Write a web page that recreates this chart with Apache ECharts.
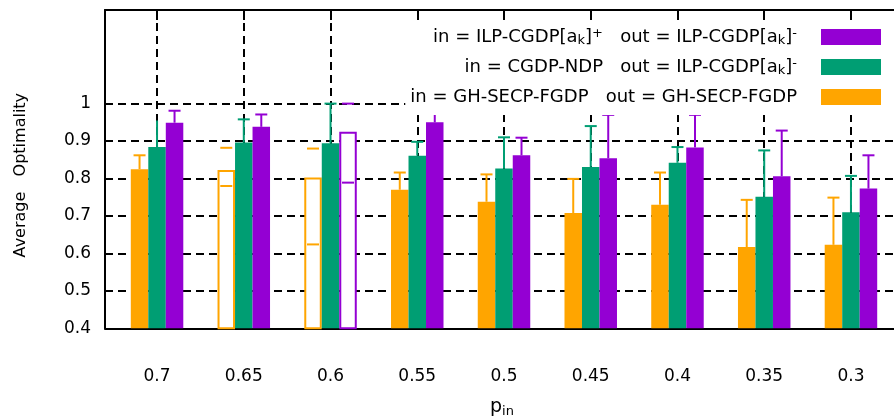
<!DOCTYPE html>
<html><head><meta charset="utf-8">
<script src="https://cdn.jsdelivr.net/npm/echarts@6/dist/echarts.min.js"></script>
<style>html,body{margin:0;padding:0;background:#fff;overflow:hidden}#c{width:894px;height:419px}</style>
</head><body><div id="c"></div>
<script>
// ---- data ----
const categories = ['0.7', '0.65', '0.6', '0.55', '0.5', '0.45', '0.4', '0.35', '0.3'];
const yTickValues = [0.4, 0.5, 0.6, 0.7, 0.8, 0.9, 1];

const nameOrange = 'in = GH-SECP-FGDP   out = GH-SECP-FGDP';
const nameGreen  = 'in = CGDP-NDP   out = ILP-CGDP[ak]-';
const namePurple = 'in = ILP-CGDP[ak]+   out = ILP-CGDP[ak]-';

const orangeMean = [0.825, 0.823, 0.803, 0.770, 0.738, 0.708, 0.730, 0.617, 0.623];
const orangeHigh = [0.862, 0.882, 0.880, 0.816, 0.811, 0.799, 0.816, 0.743, 0.749];
const orangeLow  = [null, 0.780, 0.624, null, null, null, null, null, null]; // lower whiskers visible only on open bars

const greenMean = [0.884, 0.896, 0.894, 0.861, 0.827, 0.831, 0.842, 0.751, 0.710];
const greenHigh = [0.955, 0.958, 1.000, 0.898, 0.910, 0.940, 0.884, 0.875, 0.807];
const greenLow  = [null, null, null, null, null, null, null, null, null];

const purpleMean = [0.949, 0.938, 0.925, 0.950, 0.862, 0.854, 0.883, 0.806, 0.773];
const purpleHigh = [0.981, 0.971, 1.000, 0.973, 0.909, 0.970, 0.970, 0.928, 0.862];
const purpleLow  = [null, null, 0.789, null, null, null, null, null, null];

// ---- styling ----
const FONT = 'DejaVu Sans';
const C_OR = '#FFA500', C_GR = '#009E73', C_PU = '#9400D3';
const BAR_W = 17.5;
const CAP_W = 12;
const openBars = { 0: [1, 2], 2: [2] }; // series slot -> category indices drawn as open (unfilled) bars
const noCap = { 1: [0] };                 // series slot -> indices whose upper cap is not drawn

const richLegend = {
  [namePurple]: 'in = ILP-CGDP[a{sub|k}]{sup|+}   out = ILP-CGDP[a{sub|k}]{sup|-}',
  [nameGreen]:  'in = CGDP-NDP   out = ILP-CGDP[a{sub|k}]{sup|-}',
  [nameOrange]: 'in = GH-SECP-FGDP   out = GH-SECP-FGDP'
};

const seriesDefs = [
  { name: nameOrange, color: C_OR, mean: orangeMean, hi: orangeHigh, lo: orangeLow },
  { name: nameGreen,  color: C_GR, mean: greenMean,  hi: greenHigh,  lo: greenLow },
  { name: namePurple, color: C_PU, mean: purpleMean, hi: purpleHigh, lo: purpleLow }
];

const idx = categories.map((_, i) => i);

const series = [];
seriesDefs.forEach((d, slot) => {
  const open = openBars[slot] || [];
  series.push({
    type: 'bar', name: d.name, xAxisIndex: 0, yAxisIndex: 0,
    barWidth: BAR_W, barGap: '0%', z: 2,
    itemStyle: { color: d.color },
    emphasis: { disabled: true },
    data: d.mean.map((v, i) => open.indexOf(i) >= 0
      ? { value: [i, v], itemStyle: { color: '#fff', borderColor: d.color, borderWidth: 2 } }
      : [i, v])
  });
});
seriesDefs.forEach((d, slot) => {
  const open = openBars[slot] || [];
  const nc = noCap[slot] || [];
  series.push({
    type: 'custom', name: 'err' + slot, xAxisIndex: 0, yAxisIndex: 0, z: 3,
    silent: true,
    data: d.mean.map((v, i) => [i, v, d.hi[i], d.lo[i] == null ? NaN : d.lo[i],
                                open.indexOf(i) >= 0 ? 1 : 0, nc.indexOf(i) >= 0 ? 1 : 0]),
    renderItem: function (params, api) {
      const x = api.value(0), v = api.value(1), hi = api.value(2), lo = api.value(3),
            isOpen = api.value(4), skipCap = api.value(5);
      const off = (slot - 1) * BAR_W;
      const pV = api.coord([x, v]);
      const pH = api.coord([x, hi]);
      const cx = pV[0] + off;
      const st = { stroke: d.color, lineWidth: 2 };
      const children = [];
      if (!skipCap) {
        children.push({ type: 'line', shape: { x1: cx - CAP_W / 2, y1: pH[1], x2: cx + CAP_W / 2, y2: pH[1] }, style: st });
      }
      if (!isOpen) {
        children.push({ type: 'line', shape: { x1: cx, y1: pV[1], x2: cx, y2: pH[1] }, style: st });
      }
      if (!isNaN(lo)) {
        const pL = api.coord([x, lo]);
        children.push({ type: 'line', shape: { x1: cx - CAP_W / 2, y1: pL[1], x2: cx + CAP_W / 2, y2: pL[1] }, style: st });
      }
      return { type: 'group', children: children };
    }
  });
});

const dashed = { type: [8, 5], color: '#000', width: 2 };

const option = {
  animation: false,
  backgroundColor: '#fff',
  textStyle: { fontFamily: FONT },
  grid: { left: 105, right: -9, top: 10, bottom: 90.7, containLabel: false, outerBoundsMode: 'none' },
  xAxis: [
    {
      type: 'value', min: -0.6, max: 8.6, position: 'bottom',
      axisLine: { show: true, onZero: false, lineStyle: { color: '#000', width: 2 } },
      axisTick: { show: false, customValues: idx },
      axisLabel: { customValues: idx, formatter: v => categories[Math.round(v)], margin: 40,
                   fontSize: 17, color: '#000', fontFamily: FONT },
      splitLine: { show: true, lineStyle: dashed },
      name: 'p{sub|in}', nameLocation: 'middle', nameGap: 68,
      nameTextStyle: { fontSize: 19, color: '#000', fontFamily: FONT, padding: [0, 4, 0, 0],
        rich: { sub: { fontSize: 13, verticalAlign: 'bottom', padding: [9, 0, 0, 0], fontFamily: FONT, color: '#000' } } }
    },
    {
      type: 'value', min: -0.6, max: 8.6, position: 'top',
      axisLine: { show: true, onZero: false, lineStyle: { color: '#000', width: 2 } },
      axisTick: { show: true, inside: true, length: 10, customValues: idx, lineStyle: { color: '#000', width: 2 } },
      axisLabel: { show: false },
      splitLine: { show: false }
    }
  ],
  yAxis: {
    type: 'value', min: 0.4, max: 1.25,
    axisLine: { show: true, onZero: false, lineStyle: { color: '#000', width: 2 } },
    axisTick: { show: false, customValues: yTickValues },
    axisLabel: { customValues: yTickValues, margin: 14, fontSize: 17, color: '#000', fontFamily: FONT },
    splitLine: { show: true, lineStyle: dashed },
    name: 'Average   Optimality', nameLocation: 'middle', nameGap: 76, nameRotate: 90,
    nameTextStyle: { fontSize: 16, color: '#000', fontFamily: FONT, padding: [0, 12, 0, 0] }
  },
  legend: {
    data: [namePurple, nameGreen, nameOrange],
    orient: 'vertical', align: 'right', right: 0, top: 22,
    padding: [5, 13, 8, 5], itemWidth: 60, itemHeight: 16, itemGap: 10,
    backgroundColor: '#fff', icon: 'rect', selectedMode: false,
    formatter: n => richLegend[n],
    textStyle: {
      fontSize: 18, color: '#000', fontFamily: FONT, lineHeight: 20, padding: [0, 19, 0, 0],
      rich: {
        sub: { fontSize: 13, lineHeight: 12, verticalAlign: 'bottom', color: '#000', fontFamily: FONT },
        sup: { fontSize: 13, lineHeight: 12, verticalAlign: 'top', color: '#000', fontFamily: FONT }
      }
    }
  },
  series: series
};

const chart = echarts.init(document.getElementById('c'));
chart.setOption(option);
</script>
</body></html>
